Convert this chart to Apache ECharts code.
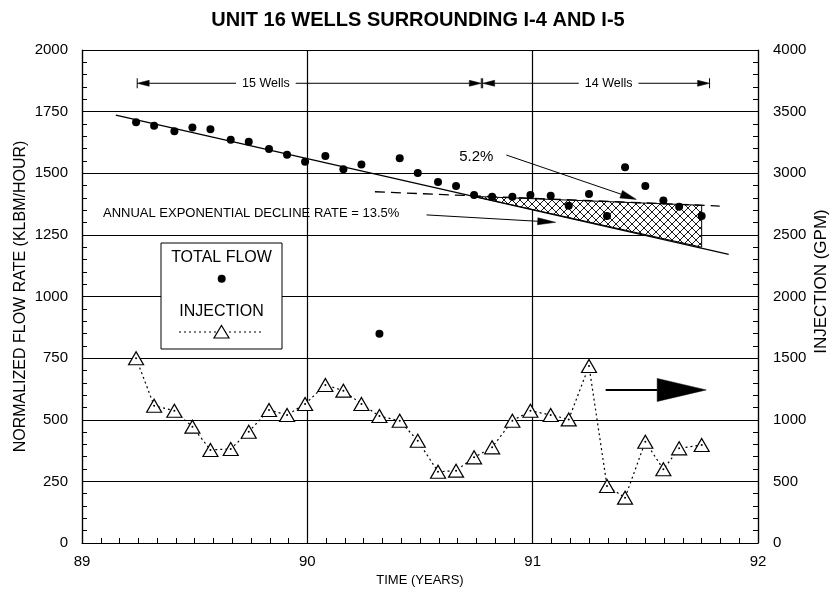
<!DOCTYPE html>
<html>
<head>
<meta charset="utf-8">
<script src="https://cdn.jsdelivr.net/npm/echarts@6/dist/echarts.min.js"></script>
<style>
html,body{margin:0;padding:0;background:#fff;}
#chart{width:836px;height:596px;}
</style>
</head>
<body>
<div id="chart"></div>
<script>
// ---------------- data ----------------
const time = [89.24, 89.32, 89.41, 89.49, 89.57, 89.66, 89.74, 89.83, 89.91, 89.99,
              90.08, 90.16, 90.24, 90.32, 90.41, 90.49, 90.58, 90.66, 90.74, 90.82,
              90.91, 90.99, 91.08, 91.16, 91.25, 91.33, 91.41, 91.50, 91.58, 91.65, 91.75];
const totalFlow = [1707, 1693, 1670, 1686, 1678, 1636, 1628, 1598, 1575, 1547,
                   1570, 1516, 1535, 849, 1561, 1501, 1464, 1448, 1412, 1405,
                   1405, 1412, 1409, 1368, 1416, 1327, 1524, 1448, 1389, 1364, 1327];
const injection = [1499, 1114, 1073, 944, 755, 763, 903, 1079, 1039, 1128,
                   1282, 1236, 1128, 1030, 992, 830, 578, 587, 695, 776,
                   992, 1073, 1039, 1003, 1436, 462, 368, 822, 598, 768, 795];
// 13.5% decline trend line (solid)
const trendT = [89.15, 91.87];
const trendV = [1736, 1171];
// 5.2% decline line (dashed)
const dashT = [90.30, 91.83];
const dashV = [1425, 1367];
// hatched region vertices
const hatchT = [90.74, 91.75, 91.75];
const hatchV = [1406, 1370, 1200];
// well-count periods
const wellPeriods = [
  {label: '15 Wells', from: 89.245, to: 90.772, mid: 89.816},
  {label: '14 Wells', from: 90.778, to: 91.785, mid: 91.337}
];
const wellLevel = 1865;
const xTickLabels = ['89', '90', '91', '92'];

// ---------------- chart ----------------
const FONT = '"Liberation Sans", Arial, Helvetica, sans-serif';
const chart = echarts.init(document.getElementById('chart'), null, {renderer: 'canvas'});

const patternCanvas = document.createElement('canvas');
patternCanvas.width = 8; patternCanvas.height = 8;
(function () {
  const c = patternCanvas.getContext('2d');
  c.fillStyle = '#fff'; c.fillRect(0, 0, 8, 8);
  c.strokeStyle = '#000'; c.lineWidth = 0.9;
  c.beginPath();
  c.moveTo(0, 0); c.lineTo(8, 8);
  c.moveTo(8, 0); c.lineTo(0, 8);
  c.stroke();
})();

function arrowEls(p0, p1, hl, hw, lw) {
  const dx = p1[0] - p0[0], dy = p1[1] - p0[1], L = Math.hypot(dx, dy);
  const ux = dx / L, uy = dy / L;
  const bx = p1[0] - ux * hl, by = p1[1] - uy * hl;
  const nx = -uy * hw / 2, ny = ux * hw / 2;
  return [
    {type: 'line', shape: {x1: p0[0], y1: p0[1], x2: bx, y2: by},
     style: {stroke: '#000', lineWidth: lw}},
    {type: 'polygon', shape: {points: [[p1[0], p1[1]], [bx + nx, by + ny], [bx - nx, by - ny]]},
     style: {fill: '#000', stroke: '#000', lineWidth: 0.5}}
  ];
}
function textEl(x, y, text, size, align, bg) {
  const st = {text: text, font: size + 'px ' + FONT, fill: '#000',
    textAlign: align, align: align, textVerticalAlign: 'middle', verticalAlign: 'middle'};
  if (bg) { st.backgroundColor = '#fff'; st.padding = [0, 6]; }
  return {type: 'text', x: x, y: y, style: st};
}

function renderHatch(params, api) {
  const pts = hatchT.map((t, i) => api.coord([t, hatchV[i]]));
  return {type: 'polygon', shape: {points: pts},
    style: {fill: {image: patternCanvas, repeat: 'repeat'}, stroke: '#000', lineWidth: 1}};
}

function renderNotes(params, api) {
  const c = (t, v) => api.coord([t, v]);
  let ch = [];
  wellPeriods.forEach(p => {
    const a = c(p.from, wellLevel), b = c(p.to, wellLevel), m = c(p.mid, wellLevel);
    ch = ch.concat(arrowEls(m, a, 12, 6, 1), arrowEls(m, b, 12, 6, 1));
    ch.push({type: 'line', shape: {x1: a[0], y1: a[1] - 5, x2: a[0], y2: a[1] + 5}, style: {stroke: '#000', lineWidth: 1}});
    ch.push({type: 'line', shape: {x1: b[0], y1: b[1] - 5, x2: b[0], y2: b[1] + 5}, style: {stroke: '#000', lineWidth: 1}});
    ch.push(textEl(m[0], m[1], p.label, 12.5, 'center', true));
  });
  ch = ch.concat(arrowEls(c(90.883, 1574), c(91.460, 1394), 16, 8, 1));
  const p52 = c(90.75, 1567);
  ch.push(textEl(p52[0], p52[1], '5.2%', 15, 'center'));
  const tp = c(89.093, 1337);
  ch.push(textEl(tp[0], tp[1], 'ANNUAL EXPONENTIAL DECLINE RATE = 13.5%', 13, 'left'));
  ch = ch.concat(arrowEls(c(90.529, 1331), c(91.102, 1301), 18, 7, 1));
  ch = ch.concat(arrowEls(c(91.324, 621), c(91.770, 621), 49, 23, 2));
  return {type: 'group', children: ch};
}

const plain = v => String(v);

const option = {
  animation: false,
  backgroundColor: '#fff',
  textStyle: {fontFamily: FONT, color: '#000'},
  title: {
    text: 'UNIT 16 WELLS SURROUNDING I-4 AND I-5',
    left: 'center', top: 5,
    textStyle: {fontSize: 20, fontWeight: 'bold', color: '#000', fontFamily: FONT}
  },
  grid: {left: 82, right: 78, top: 50, bottom: 53, containLabel: false, outerBoundsMode: 'none'},
  xAxis: {
    type: 'value', min: 89, max: 92, interval: 1,
    name: 'TIME (YEARS)', nameLocation: 'middle', nameGap: 31, nameMoveOverlap: false,
    nameTextStyle: {fontSize: 13, color: '#000', fontFamily: FONT},
    axisLine: {lineStyle: {color: '#000', width: 1.2}},
    axisTick: {show: true, inside: true, length: 6, lineStyle: {color: '#000'}},
    minorTick: {show: true, splitNumber: 12, length: 5, lineStyle: {color: '#000'}},
    axisLabel: {color: '#000', fontSize: 15, margin: 11, fontFamily: FONT,
      formatter: v => xTickLabels[Math.round(v - 89)] || ''},
    splitLine: {show: true, lineStyle: {color: '#000', width: 1.2}}
  },
  yAxis: [{
    type: 'value', min: 0, max: 2000, interval: 250,
    name: 'NORMALIZED FLOW RATE (KLBM/HOUR)', nameLocation: 'middle', nameRotate: 90, nameGap: 53,
    nameMoveOverlap: false,
    nameTextStyle: {fontSize: 16, color: '#000', fontFamily: FONT},
    axisLine: {show: true, lineStyle: {color: '#000', width: 1.2}},
    axisTick: {show: true, inside: true, length: 6, lineStyle: {color: '#000'}},
    minorTick: {show: true, splitNumber: 5, length: 5, lineStyle: {color: '#000'}},
    axisLabel: {color: '#000', fontSize: 15, margin: 14, fontFamily: FONT, formatter: plain},
    splitLine: {show: true, lineStyle: {color: '#000', width: 1.2}}
  }, {
    type: 'value', min: 0, max: 4000, interval: 500, position: 'right',
    name: 'INJECTION (GPM)', nameLocation: 'middle', nameRotate: 90, nameGap: 55,
    nameMoveOverlap: false,
    nameTextStyle: {fontSize: 17, color: '#000', fontFamily: FONT, padding: [0, 0, 0, 30]},
    axisLine: {show: true, lineStyle: {color: '#000', width: 1.2}},
    axisTick: {show: true, inside: true, length: 6, lineStyle: {color: '#000'}},
    minorTick: {show: true, splitNumber: 5, length: 5, lineStyle: {color: '#000'}},
    axisLabel: {color: '#000', fontSize: 15, margin: 15, fontFamily: FONT, formatter: plain},
    splitLine: {show: false}
  }],
  series: [
    {
      name: 'hatch', type: 'custom', renderItem: renderHatch, clip: false,
      data: [[91.2, 1300]], z: 2, silent: true
    },
    {
      name: 'trend 13.5%', type: 'line', yAxisIndex: 0, symbol: 'none',
      data: trendT.map((t, i) => [t, trendV[i]]),
      lineStyle: {color: '#000', width: 1.4}, z: 3
    },
    {
      name: 'trend 5.2%', type: 'line', yAxisIndex: 0, symbol: 'none',
      data: dashT.map((t, i) => [t, dashV[i]]),
      lineStyle: {color: '#000', width: 1.3, type: [10, 6]}, z: 3
    },
    {
      name: 'INJECTION', type: 'line', yAxisIndex: 1,
      data: time.map((t, i) => [t, injection[i]]),
      symbol: 'triangle', symbolSize: [15, 13], showAllSymbol: true,
      itemStyle: {color: '#fff', borderColor: '#000', borderWidth: 1.2, opacity: 1},
      lineStyle: {color: '#000', width: 1.2, type: [2, 3]}, z: 4
    },
    {
      name: 'injection centers', type: 'scatter', yAxisIndex: 1,
      data: time.map((t, i) => [t, injection[i]]),
      symbol: 'circle', symbolSize: 2, itemStyle: {color: '#000', opacity: 1}, z: 5, silent: true
    },
    {
      name: 'TOTAL FLOW', type: 'scatter', yAxisIndex: 0,
      data: time.map((t, i) => [t, totalFlow[i]]),
      symbol: 'circle', symbolSize: 8, itemStyle: {color: '#000', opacity: 1}, z: 6
    },
    {
      name: 'notes', type: 'custom', renderItem: renderNotes, clip: false,
      data: [[90.5, 1000]], z: 7, silent: true
    }
  ],
  graphic: [
    {type: 'rect', shape: {x: 161, y: 243, width: 121, height: 106}, z: 100,
     style: {fill: '#fff', stroke: '#000', lineWidth: 1}},
    {type: 'text', x: 221.5, y: 258, z: 101,
     style: {text: 'TOTAL FLOW', font: '16px ' + FONT, fill: '#000', textAlign: 'center', textVerticalAlign: 'middle'}},
    {type: 'circle', shape: {cx: 221.7, cy: 278.7, r: 4}, z: 101, style: {fill: '#000'}},
    {type: 'text', x: 221.5, y: 312, z: 101,
     style: {text: 'INJECTION', font: '16px ' + FONT, fill: '#000', textAlign: 'center', textVerticalAlign: 'middle'}},
    {type: 'line', shape: {x1: 179, y1: 332, x2: 264, y2: 332}, z: 101,
     style: {stroke: '#000', lineWidth: 1, lineDash: [2, 3]}},
    {type: 'polygon', shape: {points: [[221.5, 325.5], [229, 338], [214, 338]]}, z: 102,
     style: {fill: '#fff', stroke: '#000', lineWidth: 1.2}}
  ]
};
chart.setOption(option);
</script>
</body>
</html>
